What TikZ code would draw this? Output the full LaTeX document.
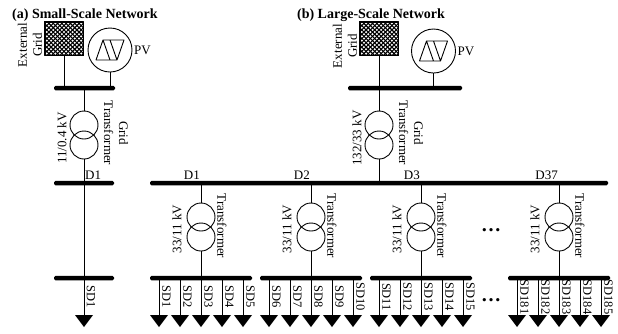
\documentclass[tikz,border=0pt]{standalone}
\usepackage{fontspec}
\setmainfont{Liberation Serif}
\usetikzlibrary{positioning}

\begin{document}
\begin{tikzpicture}[x=1pt, y=-1pt, line cap=round, line join=round,
    font=\fontsize{13}{15}\selectfont,
    wire/.style={line width=0.9pt},
    mesh/.style={line width=1.1pt, line cap=butt},
    heading/.style={font=\fontsize{14}{16}\bfseries\selectfont, inner sep=0pt},
    bus/.style={fill=black, inner sep=0pt, rounded corners=1.5pt, minimum height=4.5pt, minimum width=#1},
    xfmr/.style={draw, circle, line width=0.9pt, minimum size=28pt, inner sep=0pt},
    pvsrc/.style={draw, circle, line width=0.9pt, minimum size=44pt, inner sep=0pt},
    gridbox/.style={draw, line width=0.9pt, minimum width=38pt, minimum height=33pt, inner sep=0pt},
    vlabel/.style={rotate=90, align=center, inner sep=0pt},
    tlabel/.style={rotate=-90, align=center, inner sep=0pt},
    sdlabel/.style={tlabel, font=\fontsize{12.5}{14}\selectfont}]

    \useasboundingbox (0,0) rectangle (618,333);

    % (a) small network
    \node[heading, anchor=west] (titleA) at (12,15) {(a) Small-Scale Network};
    \node[gridbox] (gridA) at (64,38.5) {};
    \node[vlabel] (gridAlbl) at (30,45) {External\\Grid};
    \node[pvsrc] (pvA) at (110,50) {};
    \node[anchor=west, inner sep=1.5pt] (pvAlbl) at (pvA.east) {PV};
    \node[bus=61pt] (busA0) at (84.5,88) {};
    \draw[wire] (gridA.south) -- (gridA.south |- busA0.center);
    \draw[wire] (pvA.south) -- (pvA.south |- busA0.center);

    \node[xfmr] (tAup) at (84,125) {};
    \node[xfmr] (tAlo) at (84,145) {};
    \node[vlabel] (kvA) at (62,138) {11/0.4 kV};
    \node[tlabel] (gtA) at (116,133) {Grid\\Transformer};
    \draw[wire] (tAup.north |- busA0.center) -- (tAup.north);

    \node[bus=60pt] (busA1) at (84,183) {};
    \node[anchor=south west, inner sep=1pt] (dA1) at (tAlo.south |- busA1.north) {D1};
    \draw[wire] (tAlo.south) -- (tAlo.south |- busA1.center);
    \node[bus=60pt] (busA2) at (84,278) {};
    \draw[wire] (busA1.center) -- (busA2.center);

    \coordinate (ldA) at (84,315);
    \draw[wire] (ldA |- busA2.center) -- (ldA);
    \fill (ldA) ++(-9,0) -- ++(18,0) -- ++(-9,12) -- cycle;
    \node[sdlabel] (sdA) at (91,297) {SD1};

    % (b) large network
    \node[heading] (titleB) at (371,15) {(b) Large-Scale Network};
    \node[gridbox] (gridB) at (379,38.5) {};
    \node[vlabel] (gridBlbl) at (345,46) {External\\Grid};
    \node[pvsrc] (pvB) at (433.5,51) {};
    \node[anchor=west, inner sep=1.5pt] (pvBlbl) at (pvB.east) {PV};
    \node[bus=114pt] (busB0) at (405,88) {};
    \draw[wire] (gridB.south) -- (gridB.south |- busB0.center);
    \draw[wire] (pvB.south) -- (pvB.south |- busB0.center);

    \node[xfmr] (tBup) at (379,125) {};
    \node[xfmr] (tBlo) at (379,145) {};
    \node[vlabel] (kvB) at (357,138) {132/33 kV};
    \node[tlabel] (gtB) at (411,133) {Grid\\Transformer};
    \draw[wire] (tBup.north |- busB0.center) -- (tBup.north);

    \node[bus=458pt] (busB1) at (379,183) {};
    \draw[wire] (tBlo.south) -- (tBlo.south |- busB1.center);

    % feeders with their loads
    \foreach \fx/\dn/\first [count=\i] in {201/D1/1, 311/D2/6, 421/D3/11, 559/D37/181} {
        \node[xfmr] (fup\i) at (\fx,217) {};
        \node[xfmr] (flo\i) at (\fx,237) {};
        \draw[wire] (fup\i.north |- busB1.center) -- (fup\i.north);
        \node[anchor=south east, inner sep=1pt] (dB\i) at (fup\i.north |- busB1.north) {\dn};
        \node[vlabel] (kv\i) at (\fx-24,229) {33/11 kV};
        \node[tlabel] (tr\i) at (\fx+21,226) {Transformer};
        \node[bus=102pt] (sub\i) at (\fx,278) {};
        \draw[wire] (flo\i.south) -- (flo\i.south |- sub\i.center);
        \foreach \dx [count=\j from 0] in {-42,-21,0,21,42} {
            \pgfmathtruncatemacro\sdn{\first+\j}
            \coordinate (ld\i\j) at (\fx+\dx,315);
            \draw[wire] (ld\i\j |- sub\i.center) -- (ld\i\j);
            \fill (ld\i\j) ++(-9,0) -- ++(18,0) -- ++(-9,12) -- cycle;
            \node[sdlabel] (sd\i\j) at (\fx+\dx+7.5,297) {SD\sdn};
        }
    }

    \node[font=\fontsize{20}{20}\bfseries\selectfont, inner sep=0pt] (dotsT) at (491,230) {…};
    \node[font=\fontsize{20}{20}\bfseries\selectfont, inner sep=0pt] (dotsS) at (491,300) {…};

    % external grid mesh and PV symbol
    \foreach \g in {gridA,gridB} {
        \begin{scope}
            \clip (\g.south west) rectangle (\g.north east);
            \foreach \k in {-12,...,12} {
                \draw[mesh] ([xshift=\k*4.3pt]\g.center) ++(-25,-25) -- ++(50,50);
                \draw[mesh] ([xshift=\k*4.3pt]\g.center) ++(-25,25) -- ++(50,-50);
            }
        \end{scope}
        \draw[wire] (\g.south west) rectangle (\g.north east);
    }
    \foreach \p in {pvA,pvB} {
        \draw[wire, shift={(\p.center)}] (-14,10) -- (-7,-10) -- (0,10)
            (0,-10) -- (14,-10) -- (7,10) -- cycle
            (-7,-10) -- (0,-10) (-14,10) -- (7,10);
    }

\end{tikzpicture}
\end{document}
